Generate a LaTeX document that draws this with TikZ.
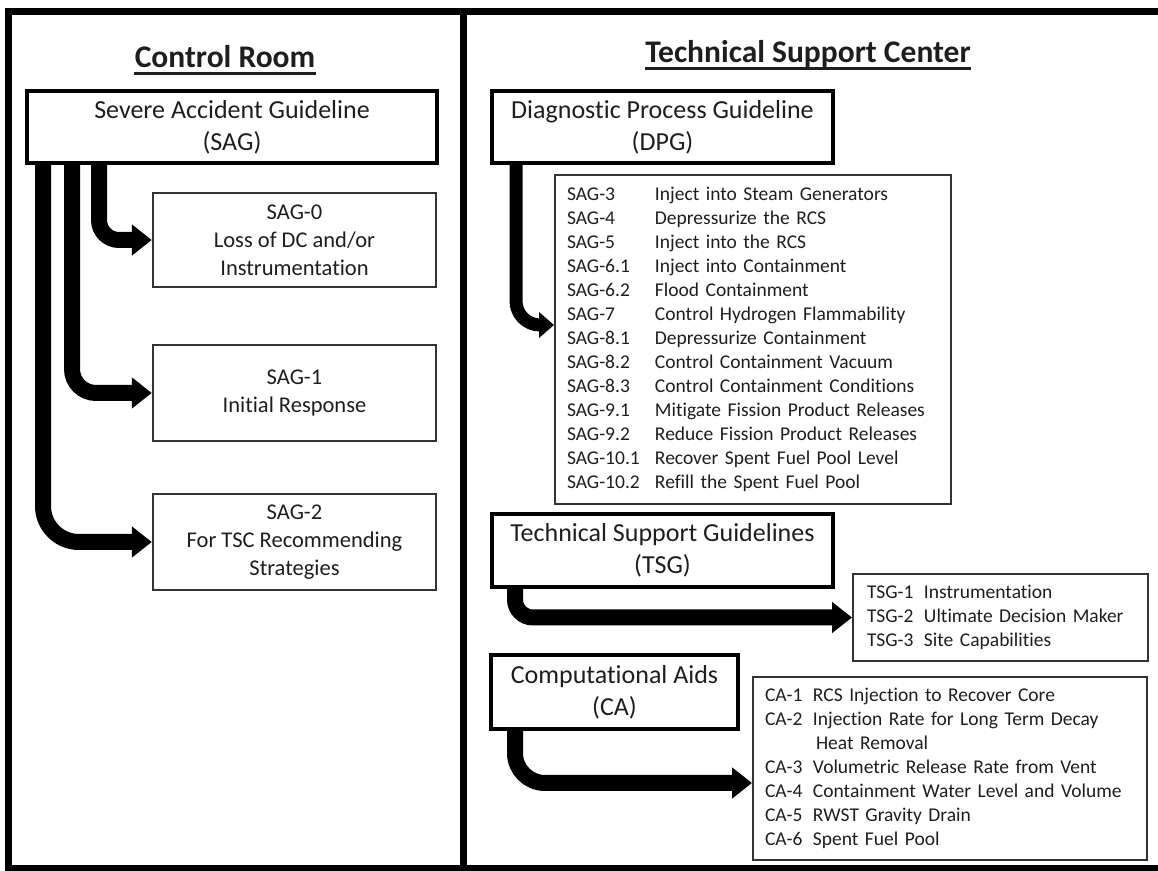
\documentclass[tikz,border=0pt]{standalone}
\usepackage{fontspec}
\setmainfont{Carlito}[Ligatures=NoCommon]
\usetikzlibrary{arrows.meta}
\definecolor{txtgray}{RGB}{30,30,30}
\newcommand{\sagrow}[2]{\makebox[44pt][l]{#1}#2}
\newcommand{\tsgrow}[2]{\makebox[28.5pt][l]{#1}#2}
\newcommand{\carow}[2]{\makebox[24pt][l]{#1}#2}
\begin{document}
\begin{tikzpicture}[x=0.5pt,y=-0.5pt,
		every node/.style={text=txtgray},
		heading/.style={font=\fontsize{15.75}{19}\selectfont\bfseries, inner sep=0pt, anchor=base},
		guidebox/.style={draw=black, line width=2pt, align=center, inner sep=0pt, font=\fontsize{13}{16}\selectfont},
		sagbox/.style={draw=black!80, line width=1.2pt, align=center, inner sep=0pt, minimum width=141.5pt, minimum height=48pt, font=\fontsize{11.25}{14}\selectfont},
		listbox/.style={draw=black!80, line width=1pt, align=left, inner ysep=0pt, inner xsep=6pt, font=\fontsize{9.75}{12}\selectfont},
		fatarrow/.style={draw=black, line width=8pt, -{Triangle[width=15pt,length=10pt]}}]
		\useasboundingbox (0,0) rectangle (1158,871);
		\draw[line width=3.5pt] (8,11.5) rectangle (1161,868);
		\draw[line width=3.5pt] (463,11.5) -- (463,868);
		% headings
		\node[heading] (crt) at (225,68) {Control Room};
		\node[heading] (tsct) at (808,63) {Technical Support Center};
		\draw[line width=1.5pt, txtgray] ([yshift=-3pt]crt.base west) -- ([yshift=-3pt]crt.base east);
		\draw[line width=1.5pt, txtgray] ([yshift=-3pt]tsct.base west) -- ([yshift=-3pt]tsct.base east);
		% control room
		\node[guidebox, minimum width=205pt, minimum height=36pt] (sag) at (232,127) {Severe Accident Guideline\\(SAG)};
		\node[sagbox, minimum height=47pt] (sag0) at (294.5,240) {SAG-0\\Loss of DC and/or\\Instrumentation};
		\node[sagbox] (sag1) at (294.5,393) {SAG-1\\Initial Response};
		\node[sagbox] (sag2) at (294.5,542) {SAG-2\\For TSC Recommending\\Strategies};
		\coordinate (a1) at (43,0);
		\coordinate (a2) at (72,0);
		\coordinate (a3) at (99,0);
		\draw[fatarrow, rounded corners=18pt] (sag.south -| a1) |- (sag2.west);
		\draw[fatarrow, rounded corners=12pt] (sag.south -| a2) |- (sag1.west);
		\draw[fatarrow, rounded corners=10pt] (sag.south -| a3) |- (sag0.west);
		% technical support center
		\node[guidebox, minimum width=170.5pt, minimum height=36pt] (dpg) at (662.5,127) {Diagnostic Process Guideline\\(DPG)};
		\node[listbox, text width=186pt, minimum height=164.5pt] (saglist) at (753,339.5) {%
			\sagrow{SAG-3}{Inject into Steam Generators}\\
			\sagrow{SAG-4}{Depressurize the RCS}\\
			\sagrow{SAG-5}{Inject into the RCS}\\
			\sagrow{SAG-6.1}{Inject into Containment}\\
			\sagrow{SAG-6.2}{Flood Containment}\\
			\sagrow{SAG-7}{Control Hydrogen Flammability}\\
			\sagrow{SAG-8.1}{Depressurize Containment}\\
			\sagrow{SAG-8.2}{Control Containment Vacuum}\\
			\sagrow{SAG-8.3}{Control Containment Conditions}\\
			\sagrow{SAG-9.1}{Mitigate Fission Product Releases}\\
			\sagrow{SAG-9.2}{Reduce Fission Product Releases}\\
			\sagrow{SAG-10.1}{Recover Spent Fuel Pool Level}\\
			\sagrow{SAG-10.2}{Refill the Spent Fuel Pool}};
		\coordinate (d1) at (516,325);
		\draw[fatarrow, line width=6.5pt, -{Triangle[width=12.5pt,length=7.5pt]}, rounded corners=12pt] (dpg.south -| d1) |- (saglist.west |- d1);
		\node[guidebox, minimum width=170.5pt, minimum height=36.5pt] (tsg) at (662.5,550.5) {Technical Support Guidelines\\(TSG)};
		\node[listbox, inner xsep=7pt, text width=133.5pt, minimum height=43.5pt] (tsglist) at (1000.5,617.5) {%
			\tsgrow{TSG-1}{Instrumentation}\\
			\tsgrow{TSG-2}{Ultimate Decision Maker}\\
			\tsgrow{TSG-3}{Site Capabilities}};
		\coordinate (t1) at (515,0);
		\draw[fatarrow, rounded corners=9pt] (tsg.south -| t1) |- (tsglist.west);
		\node[guidebox, minimum width=123.5pt, minimum height=37pt] (ca) at (614.5,692) {Computational Aids\\(CA)};
		\node[listbox, text width=185pt, minimum height=91.5pt] (calist) at (950,768.5) {%
			\carow{CA-1}{RCS Injection to Recover Core}\\
			\carow{CA-2}{Injection Rate for Long Term Decay}\\
			\hspace*{25.5pt}Heat Removal\\
			\carow{CA-3}{Volumetric Release Rate from Vent}\\
			\carow{CA-4}{Containment Water Level and Volume}\\
			\carow{CA-5}{RWST Gravity Drain}\\
			\carow{CA-6}{Spent Fuel Pool}};
		\coordinate (c1) at (515,783);
		\draw[fatarrow, rounded corners=15pt] (ca.south -| c1) |- (calist.west |- c1);
\end{tikzpicture}
\end{document}
